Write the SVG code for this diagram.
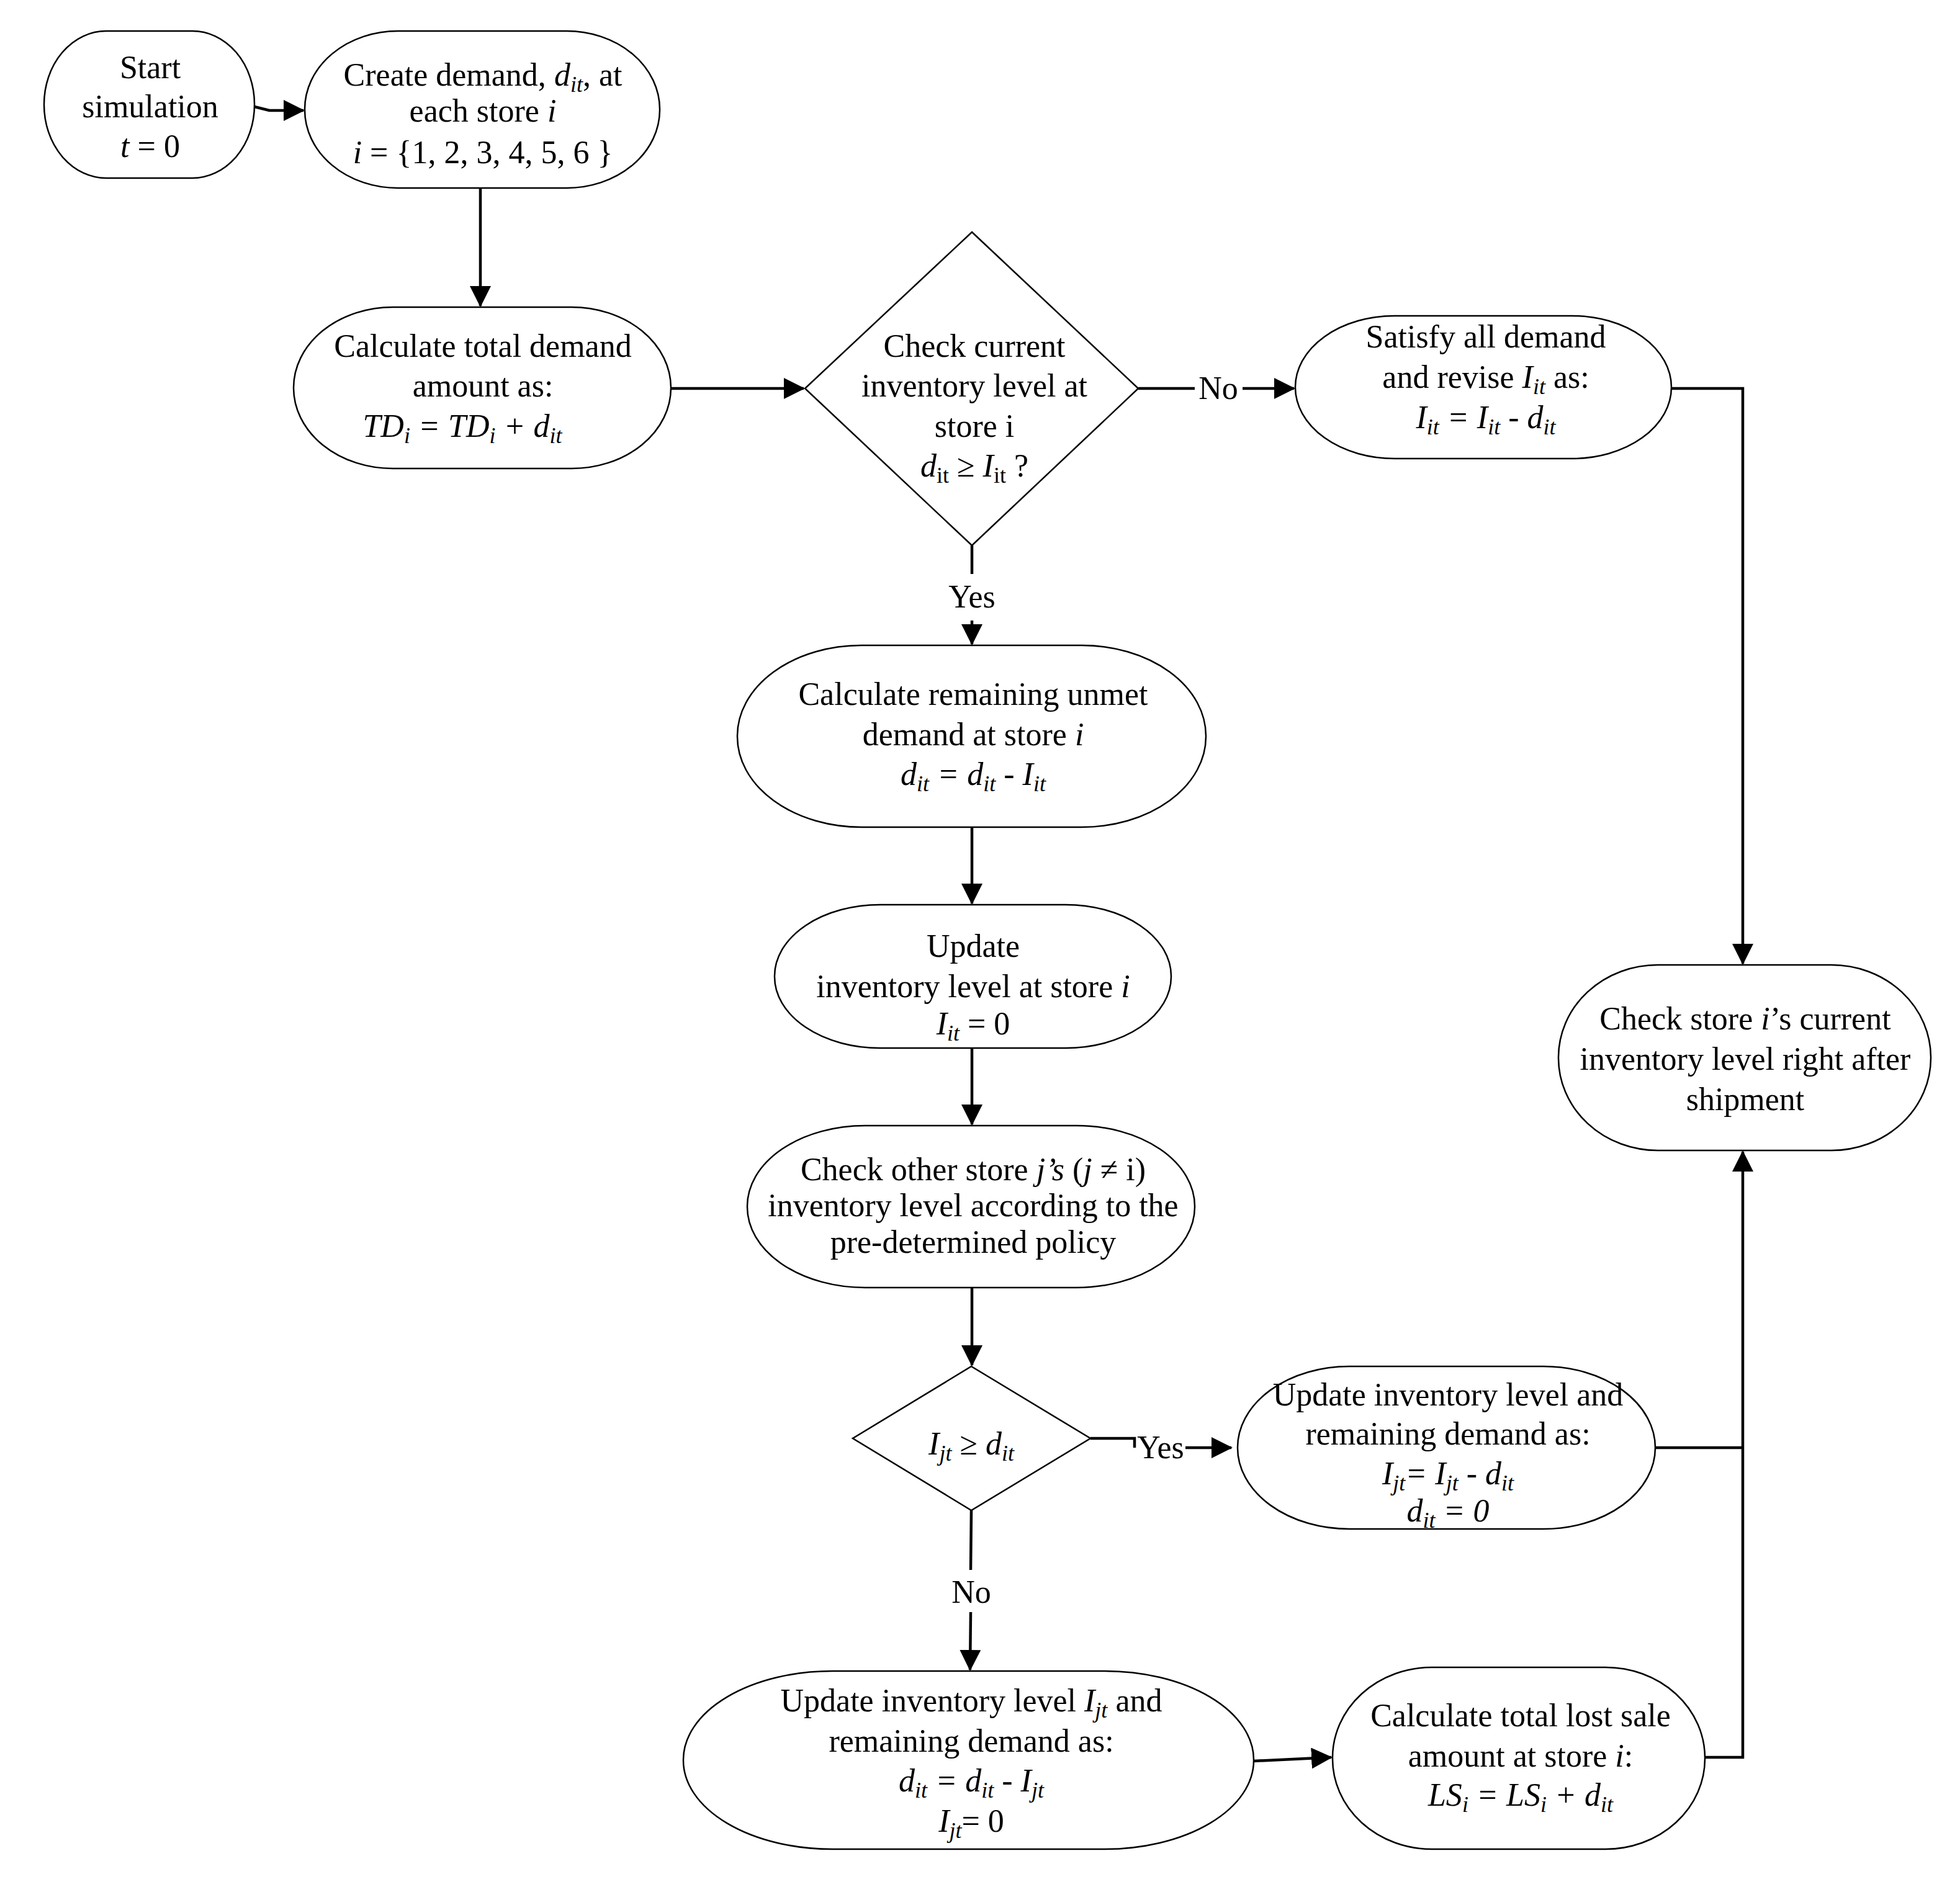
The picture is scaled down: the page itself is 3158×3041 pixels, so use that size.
<svg xmlns="http://www.w3.org/2000/svg" width="3158" height="3041" viewBox="0 0 3158 3041">
<style>
.n{fill:#fff;stroke:#000;stroke-width:2.5}
.c{fill:none;stroke:#000;stroke-width:4.5}
text{font-family:"Liberation Serif","Times New Roman",serif;font-size:52px;text-anchor:middle;fill:#000}
.i{font-style:italic}
.s{font-size:36px;font-style:italic}
</style>
<defs>
<marker id="b" markerWidth="34" markerHeight="34" refX="32" refY="17" orient="auto" markerUnits="userSpaceOnUse"><path d="M0,0 L34,17 L0,34 Z"/></marker></defs>
<g id="connectors">
<path class="c" marker-end="url(#b)" d="M410,172 L434,178 L489,178"/>
<path class="c" marker-end="url(#b)" d="M774,303 L774,493"/>
<path class="c" marker-end="url(#b)" d="M1081,626 L1295,626"/>
<path class="c" d="M1834,626 L1925,626"/>
<path class="c" marker-end="url(#b)" d="M2002,626 L2085,626"/>
<path class="c" marker-end="url(#b)" d="M2693,626 L2808,626 L2808,1553"/>
<path class="c" d="M1566,879 L1566,925"/>
<path class="c" marker-end="url(#b)" d="M1566,1000 L1566,1038"/>
<path class="c" marker-end="url(#b)" d="M1566,1333 L1566,1456"/>
<path class="c" marker-end="url(#b)" d="M1566,1689 L1566,1812"/>
<path class="c" marker-end="url(#b)" d="M1566,2075 L1566,2200"/>
<path class="c" d="M1757,2318 L1828,2318 L1828,2333"/>
<path class="c" marker-end="url(#b)" d="M1910,2333 L1984,2333"/>
<path class="c" d="M1565,2434 L1564,2530"/>
<path class="c" marker-end="url(#b)" d="M1564,2598 L1563,2691"/>
<path class="c" marker-end="url(#b)" d="M2020,2838 L2145,2832"/>
<path class="c" d="M2667,2333 L2808,2333"/>
<path class="c" marker-end="url(#b)" d="M2747,2832 L2808,2832 L2808,1856"/>
</g>
<g id="start"><rect class="n" x="71" y="50" width="339" height="237" rx="100" ry="118"/>
<text x="242" y="126">Start</text><text x="242" y="189">simulation</text><text x="242" y="253"><tspan class="i">t</tspan> = 0</text></g>
<g id="create"><rect class="n" x="491" y="50" width="572" height="253" rx="150" ry="126"/>
<text x="778" y="138">Create demand, <tspan class="i">d</tspan><tspan class="s" baseline-shift="-10">it</tspan>, at</text>
<text x="778" y="196">each store <tspan class="i">i</tspan></text>
<text x="778" y="263"><tspan class="i">i</tspan> = {1, 2, 3, 4, 5, 6 }</text></g>
<g id="calc-total"><rect class="n" x="473" y="495" width="608" height="260" rx="160" ry="130"/>
<text x="778" y="575">Calculate total demand</text><text x="778" y="639">amount as:</text>
<text x="745" y="704" class="i">TD<tspan class="s" baseline-shift="-10">i</tspan> = TD<tspan class="s" baseline-shift="-10">i</tspan> + d<tspan class="s" baseline-shift="-10">it</tspan></text></g>
<g id="check-current"><path class="n" d="M1566,374 L1834,626 L1566,879 L1297,626 Z"/>
<text x="1570" y="575">Check current</text><text x="1570" y="639">inventory level at</text><text x="1570" y="704">store i</text>
<text x="1570" y="768"><tspan class="i">d</tspan><tspan font-size="36" baseline-shift="-10">it</tspan>  ≥  <tspan class="i">I</tspan><tspan font-size="36" baseline-shift="-10">it</tspan> ?</text></g>
<g id="satisfy"><rect class="n" x="2087" y="509" width="606" height="230" rx="160" ry="115"/>
<text x="2394" y="560">Satisfy all demand</text>
<text x="2394" y="625">and revise <tspan class="i">I</tspan><tspan class="s" baseline-shift="-10">it</tspan> as:</text>
<text x="2394" y="690" class="i">I<tspan class="s" baseline-shift="-10">it</tspan> = I<tspan class="s" baseline-shift="-10">it</tspan> - d<tspan class="s" baseline-shift="-10">it</tspan></text></g>
<g id="check-store"><rect class="n" x="2511" y="1555" width="600" height="299" rx="160" ry="149"/>
<text x="2812" y="1659">Check store <tspan class="i">i</tspan>’s current</text><text x="2812" y="1724">inventory level right after</text><text x="2812" y="1789">shipment</text></g>
<g id="calc-remaining"><rect class="n" x="1188" y="1040" width="755" height="293" rx="200" ry="146"/>
<text x="1568" y="1136">Calculate remaining unmet</text><text x="1568" y="1201">demand at store <tspan class="i">i</tspan></text>
<text x="1568" y="1265" class="i">d<tspan class="s" baseline-shift="-10">it</tspan> = d<tspan class="s" baseline-shift="-10">it</tspan> - I<tspan class="s" baseline-shift="-10">it</tspan></text></g>
<g id="update-inv"><rect class="n" x="1248" y="1458" width="639" height="231" rx="170" ry="115"/>
<text x="1568" y="1542">Update</text><text x="1568" y="1607">inventory level at store <tspan class="i">i</tspan></text>
<text x="1568" y="1667"><tspan class="i">I</tspan><tspan class="s" baseline-shift="-10">it</tspan> = 0</text></g>
<g id="check-other"><rect class="n" x="1204" y="1814" width="721" height="261" rx="190" ry="130"/>
<text x="1568" y="1902">Check other store <tspan class="i">j’s</tspan> (<tspan class="i">j</tspan> ≠ i)</text>
<text x="1568" y="1960">inventory level according to the</text><text x="1568" y="2019">pre-determined policy</text></g>
<g id="check-j"><path class="n" d="M1565,2202 L1757,2318 L1565,2434 L1374,2318 Z"/>
<text x="1565" y="2344"><tspan class="i">I</tspan><tspan class="s" baseline-shift="-10">jt</tspan>  ≥  <tspan class="i">d</tspan><tspan class="s" baseline-shift="-10">it</tspan></text></g>
<g id="update-yes"><rect class="n" x="1994" y="2202" width="673" height="262" rx="180" ry="131"/>
<text x="2333" y="2265">Update inventory level and</text><text x="2333" y="2328">remaining demand as:</text>
<text x="2333" y="2392" class="i">I<tspan class="s" baseline-shift="-10">jt</tspan>= I<tspan class="s" baseline-shift="-10">jt</tspan> - d<tspan class="s" baseline-shift="-10">it</tspan></text>
<text x="2333" y="2452" class="i">d<tspan class="s" baseline-shift="-10">it</tspan> = 0</text></g>
<g id="update-no"><rect class="n" x="1101" y="2693" width="919" height="287" rx="240" ry="143"/>
<text x="1565" y="2758">Update inventory level <tspan class="i">I</tspan><tspan class="s" baseline-shift="-10">jt</tspan> and</text>
<text x="1565" y="2823">remaining demand as:</text>
<text x="1565" y="2887" class="i">d<tspan class="s" baseline-shift="-10">it</tspan> = d<tspan class="s" baseline-shift="-10">it</tspan> - I<tspan class="s" baseline-shift="-10">jt</tspan></text>
<text x="1565" y="2952"><tspan class="i">I</tspan><tspan class="s" baseline-shift="-10">jt</tspan>= 0</text></g>
<g id="calc-lost"><rect class="n" x="2147" y="2687" width="600" height="293" rx="160" ry="146"/>
<text x="2450" y="2782">Calculate total lost sale</text><text x="2450" y="2847">amount at store <tspan class="i">i</tspan>:</text>
<text x="2450" y="2910" class="i">LS<tspan class="s" baseline-shift="-10">i</tspan> = LS<tspan class="s" baseline-shift="-10">i</tspan> + d<tspan class="s" baseline-shift="-10">it</tspan></text></g>
<g id="labels">
<text x="1963" y="643">No</text><text x="1566" y="979">Yes</text><text x="1870" y="2350">Yes</text><text x="1565" y="2583">No</text></g>
</svg>
